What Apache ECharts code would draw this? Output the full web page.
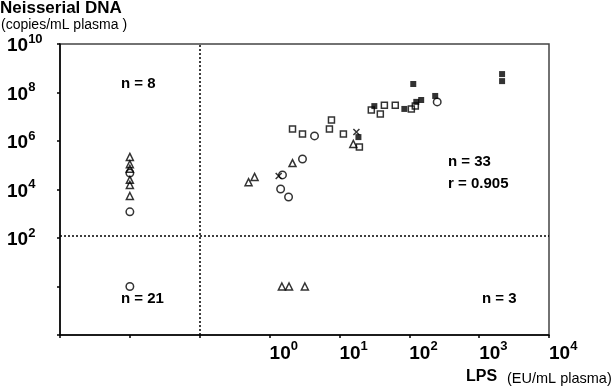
<!DOCTYPE html>
<html><head><meta charset="utf-8">
<script src="https://cdn.jsdelivr.net/npm/echarts@6/dist/echarts.min.js"></script>
<style>html,body{margin:0;padding:0;background:#fff}#c{width:613px;height:390px}</style>
</head><body><div id="c"></div>
<script>
// LPS (EU/mL) , Neisserial DNA (copies/mL)
const openSquares = [[2.13,3.1e6],[2.96,1.95e6],[7.69,7.4e6],[7.19,3.1e6],[11.4,1.95e6],[19.3,5.6e5],
  [28.6,1.9e7],[44,3.0e7],[38.5,1.29e7],[63,3.0e7],[107,2.1e7],[122,2.75e7]];
const filledSquares = [[18.7,1.45e6],[31.6,2.75e7],[85,2.1e7],[114,2.24e8],[126,4.1e7],[148,4.9e7],
  [235,7.2e7],[2130,5.75e8],[2130,2.95e8]];
const circles = [[4.4,1.62e6],[2.96,1.82e5],[1.53,4.0e4],[1.44,1.05e4],[1.87,4.9e3],[251,4.1e7],
  [0.01,4.8e4],[0.01,1.2e3],[0.01,1]];
const triangles = [[15.8,7.6e5],[2.13,1.23e5],[0.61,3.3e4],[0.5,2.0e4],
  [0.01,2.2e5],[0.01,1.1e5],[0.01,7.1e4],[0.01,2.5e4],[0.01,1.55e4],[0.01,5.4e3],
  [1.5,1],[1.9,1],[3.2,1]];
const crosses = [[17.5,2.34e6],[1.35,3.6e4]];
const xCut = 0.1, yCut = 120;
const xRange = [0.001, 10000], yRange = [0.01, 1e10];
const notes = [
  {text:'n = 8', x:121, y:84},
  {text:'n = 21', x:121, y:299},
  {text:'n = 3', x:482, y:299},
  {text:'n = 33', x:448, y:162},
  {text:'r = 0.905', x:448, y:184}
];

const chart = echarts.init(document.getElementById('c'), null, {renderer:'canvas'});
const FONT = 'Liberation Sans, Arial, sans-serif';
const rich = {
  b:{fontSize:19, fontWeight:'bold', color:'#000', fontFamily:FONT, lineHeight:23, verticalAlign:'bottom'},
  s:{fontSize:13, fontWeight:'bold', color:'#000', fontFamily:FONT, lineHeight:23, verticalAlign:'top'}
};
function expLabel(minE){
  return function(v){
    const e = Math.round(Math.log10(v));
    if (e < minE) return '';
    return '{b|10}{s|' + e + '}';
  };
}
const openStyle = {color:'rgba(0,0,0,0)', borderColor:'#000', borderWidth:1.5};
const option = {
  backgroundColor:'#fff',
  animation:false,
  grid:{left:60, right:64, top:44, bottom:55, show:true, borderColor:'#444', borderWidth:1.5, backgroundColor:'transparent'},
  xAxis:{type:'log', logBase:10, min:xRange[0], max:xRange[1], splitNumber:7,
    axisLine:{show:true, lineStyle:{color:'#000', width:1.5}},
    axisTick:{show:true, length:3, lineStyle:{color:'#000', width:1.5}},
    splitLine:{show:false},
    axisLabel:{formatter:expLabel(0), rich:rich, align:'left', margin:5, showMinLabel:true, showMaxLabel:true}
  },
  yAxis:{type:'log', logBase:100, min:yRange[0], max:yRange[1], splitNumber:6, interval:1,
    axisLine:{show:true, lineStyle:{color:'#000', width:1.5}},
    axisTick:{show:true, length:3, lineStyle:{color:'#000', width:1.5}},
    splitLine:{show:false},
    axisLabel:{formatter:expLabel(2), rich:rich, align:'left', margin:53, interval:0, showMinLabel:true, showMaxLabel:true}
  },
  graphic:[
    {type:'text', left:0, top:0, style:{text:'Neisserial DNA', font:'bold 17px '+FONT, fill:'#000'}},
    {type:'text', left:1, top:18, style:{text:'(copies/mL plasma )', font:'14px '+FONT, fill:'#000'}},
    {type:'text', left:466, top:369, style:{text:'LPS', font:'bold 16px '+FONT, fill:'#000'}},
    {type:'text', left:507, top:371, style:{text:'(EU/mL plasma)', font:'14.5px '+FONT, fill:'#000'}}
  ].concat(notes.map(n => ({type:'text', left:n.x, top:n.y-8, style:{text:n.text, font:'bold 15px '+FONT, fill:'#000'}}))),
  series:[
    {type:'scatter', name:'open squares', data:openSquares, symbol:'rect', symbolSize:6, itemStyle:openStyle,
      markLine:{silent:true, symbol:'none', label:{show:false}, animation:false,
        lineStyle:{type:[2,2], color:'#000', width:1.5},
        data:[{xAxis:xCut},{yAxis:yCut}]}},
    {type:'scatter', name:'filled squares', data:filledSquares, symbol:'rect', symbolSize:6, itemStyle:{color:'#000'}},
    {type:'scatter', name:'circles', data:circles, symbol:'circle', symbolSize:7.5, itemStyle:openStyle},
    {type:'scatter', name:'triangles', data:triangles, symbol:'triangle', symbolSize:7, itemStyle:openStyle},
    {type:'scatter', name:'crosses', data:crosses, symbol:'path://M0,0L10,10M10,0L0,10', symbolSize:6,
      itemStyle:{color:'rgba(0,0,0,0)', borderColor:'#000', borderWidth:1.5}}
  ]
};
chart.setOption(option);
</script></body></html>
